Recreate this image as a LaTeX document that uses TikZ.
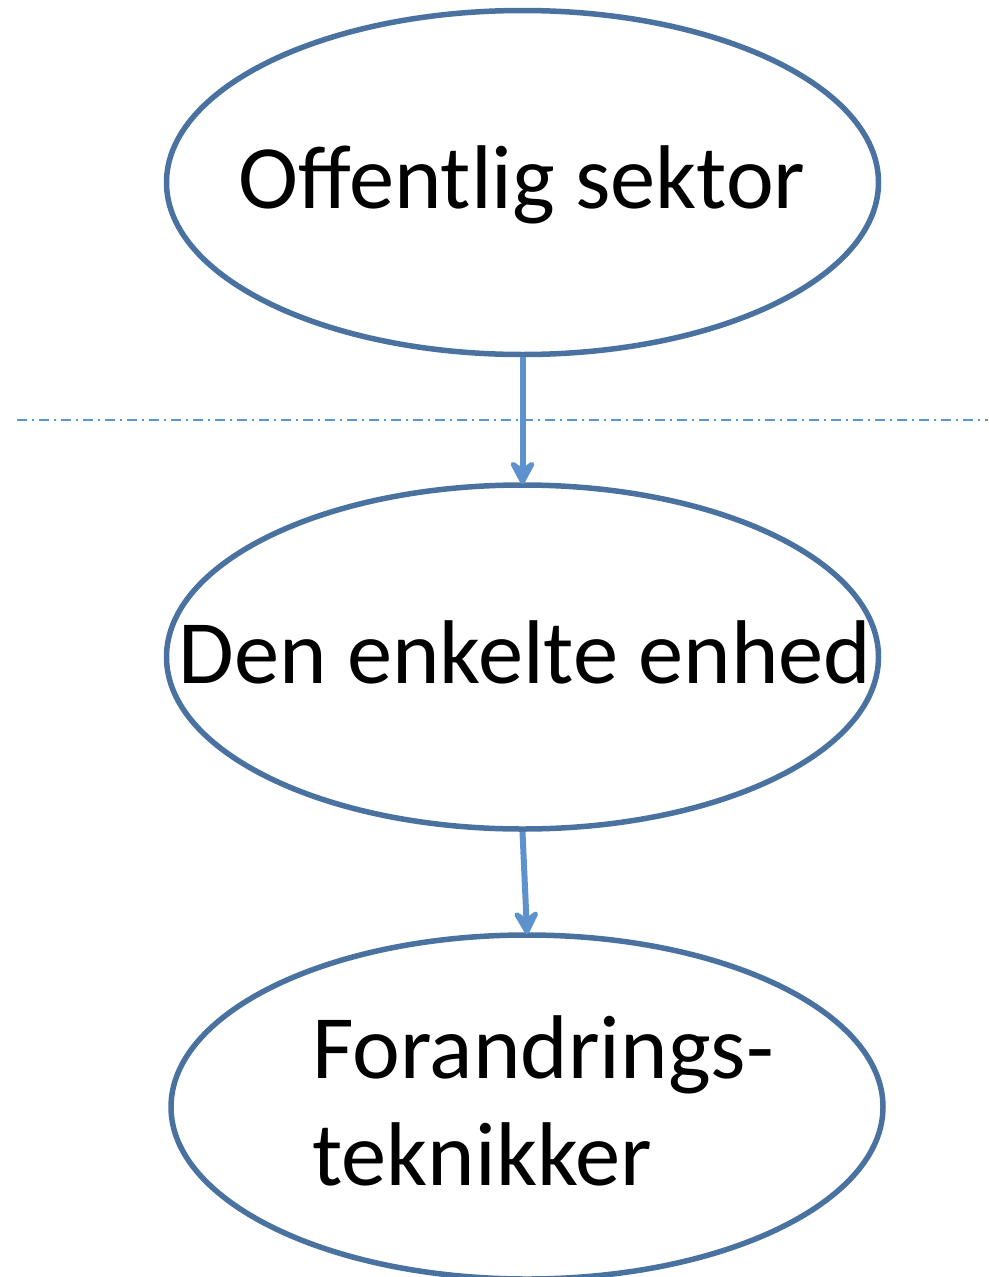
\documentclass[tikz,border=0pt]{standalone}
\usepackage{fontspec}
\setmainfont{Carlito}
\usetikzlibrary{shapes.geometric,arrows.meta}
\definecolor{ellcol}{RGB}{74,114,160}
\definecolor{arrcol}{RGB}{94,146,204}
\definecolor{dashcol}{RGB}{91,150,210}
\tikzset{
  oval/.style={ellipse, draw=ellcol, line width=5.5pt, minimum width=712pt, minimum height=344pt, inner sep=0pt},
  lbl/.style={font=\fontsize{90.5}{107}\selectfont, inner sep=0pt, text=black},
  conn/.style={draw=arrcol, line width=6pt, -{Stealth[length=30pt,width=32pt,inset=11pt,round]}, shorten >=-2pt},
  sep/.style={draw=dashcol, line width=2pt, dash pattern=on 10pt off 5pt on 2pt off 5pt}
}
\begin{document}
\begin{tikzpicture}[x=1pt,y=-1pt]
\useasboundingbox (0,0) rectangle (988,1277);
\node[oval] (o1) at (522.5,182.5) {};
\node[oval] (o2) at (522.5,657) {};
\node[oval] (o3) at (527,1107) {};
\node[lbl, anchor=base] (t1) at (522,208) {Offentlig sektor};
\node[lbl, anchor=base] (t2) at (525,683) {Den enkelte enhed};
\node[lbl, anchor=base west, align=left] (t3) at (312,1078) {Forandrings-};
\node[lbl, anchor=base west, align=left] (t4) at (312,1185) {teknikker};
\coordinate (sl) at (17,420);
\coordinate (sr) at (988,420);
\draw[sep] (sl) -- (sr);
\draw[conn] (o1.south) -- (o2.north);
\draw[conn] (o2.south) -- (o3.north);
\end{tikzpicture}
\end{document}
